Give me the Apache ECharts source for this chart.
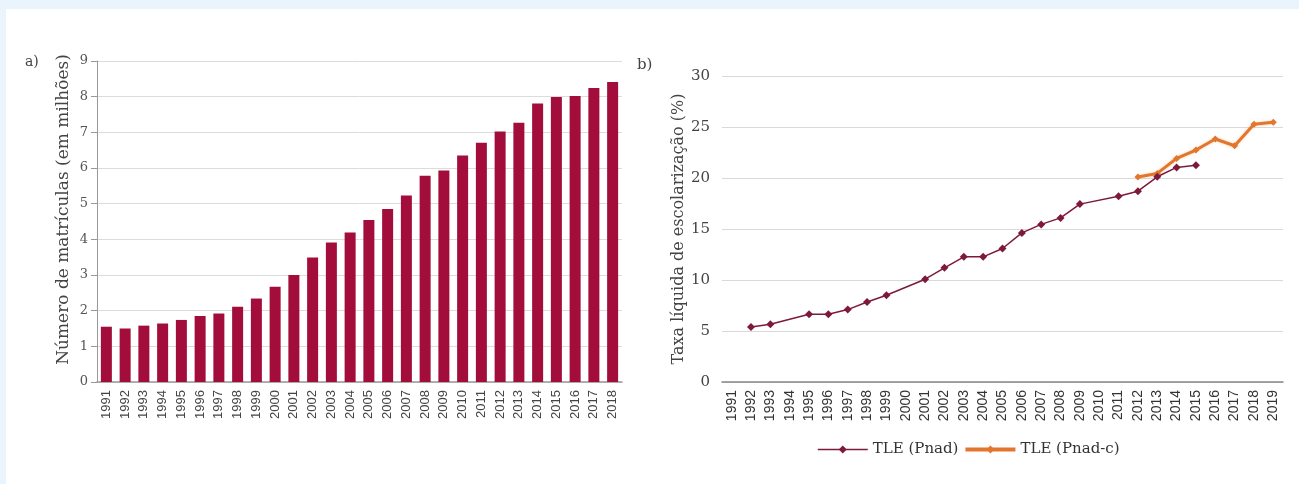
<!DOCTYPE html>
<html>
<head>
<meta charset="utf-8">
<script src="https://cdn.jsdelivr.net/npm/echarts@6/dist/echarts.min.js"></script>
<style>
  html, body { margin: 0; padding: 0; background: #eaf4fc; }
  #paper { position: absolute; left: 6px; top: 9px; width: 1293px; height: 475px; background: #fff; }
  #chart { position: absolute; left: 0; top: 0; width: 1299px; height: 484px; }
</style>
</head>
<body>
<div id="paper"></div>
<div id="chart"></div>
<script>
// a) matrículas (em milhões)
var anosA = ['1991','1992','1993','1994','1995','1996','1997','1998','1999','2000',
  '2001','2002','2003','2004','2005','2006','2007','2008','2009','2010',
  '2011','2012','2013','2014','2015','2016','2017','2018'];
var matriculas = [1.55,1.50,1.58,1.64,1.74,1.85,1.92,2.11,2.34,2.67,
  3.00,3.49,3.91,4.19,4.54,4.85,5.23,5.78,5.93,6.35,
  6.71,7.02,7.27,7.81,7.99,8.02,8.24,8.41];

// b) taxa líquida de escolarização (%)
var anosB = ['1991','1992','1993','1994','1995','1996','1997','1998','1999','2000',
  '2001','2002','2003','2004','2005','2006','2007','2008','2009','2010',
  '2011','2012','2013','2014','2015','2016','2017','2018','2019'];
var tlePnad = [null,5.40,5.66,null,6.64,6.64,7.10,7.85,8.51,null,
  10.08,11.19,12.27,12.27,13.09,14.62,15.45,16.09,17.44,null,
  18.22,18.71,20.12,21.04,21.24,null,null,null,null];
var tlePnadC = [null,null,null,null,null,null,null,null,null,null,
  null,null,null,null,null,null,null,null,null,null,
  null,20.09,20.45,21.92,22.74,23.82,23.16,25.26,25.46];

var serif = 'DejaVu Serif';
var sans = 'Liberation Sans';

var chart = echarts.init(document.getElementById('chart'));
var option = {
  animation: false,
  textStyle: { fontFamily: serif },
  graphic: [
    { type: 'text', left: 25, top: 55, style: { text: 'a)', font: '14px "DejaVu Serif"', fill: '#444' } },
    { type: 'text', left: 637, top: 58, style: { text: 'b)', font: '15px "DejaVu Serif"', fill: '#444' } }
  ],
  legend: {
    left: 812,
    top: 437,
    itemWidth: 50,
    itemHeight: 10,
    itemGap: 5,
    textStyle: { fontFamily: serif, fontSize: 15, color: '#333' },
    data: [
      { name: 'TLE (Pnad)', lineStyle: { width: 1.5 } },
      { name: 'TLE (Pnad-c)', lineStyle: { width: 4 } }
    ]
  },
  grid: [
    { left: 97, right: 677, top: 61, bottom: 102 },
    { left: 722, right: 16, top: 76, bottom: 102 }
  ],
  xAxis: [
    {
      gridIndex: 0,
      type: 'category',
      data: anosA,
      axisLine: { lineStyle: { color: '#999', width: 1.5 } },
      axisTick: { show: false },
      axisLabel: { rotate: 90, interval: 0, fontFamily: sans, fontSize: 13, color: '#444', margin: 8 }
    },
    {
      gridIndex: 1,
      type: 'category',
      data: anosB,
      axisLine: { lineStyle: { color: '#888', width: 1.5 } },
      axisTick: { show: false },
      axisLabel: { rotate: 90, interval: 0, fontFamily: sans, fontSize: 14, color: '#333', margin: 8 }
    }
  ],
  yAxis: [
    {
      gridIndex: 0,
      type: 'value',
      min: 0, max: 9, interval: 1,
      name: 'Número de matrículas (em milhões)',
      nameLocation: 'middle',
      nameGap: 25,
      nameTextStyle: { fontFamily: serif, fontSize: 17, color: '#444', padding: [0, 0, 0, 24] },
      axisLine: { show: true, lineStyle: { color: '#999' } },
      axisTick: { show: true, length: 6, lineStyle: { color: '#999' } },
      axisLabel: { fontFamily: serif, fontSize: 13, color: '#555', margin: 9 },
      splitLine: { lineStyle: { color: '#dcdcdc' } }
    },
    {
      gridIndex: 1,
      type: 'value',
      min: 0, max: 30, interval: 5,
      name: 'Taxa líquida de escolarização (%)',
      nameLocation: 'middle',
      nameGap: 34,
      nameTextStyle: { fontFamily: serif, fontSize: 16, color: '#444' },
      axisLine: { show: false },
      axisTick: { show: false },
      axisLabel: { fontFamily: serif, fontSize: 15, color: '#444', margin: 12 },
      splitLine: { lineStyle: { color: '#d9d9d9' } }
    }
  ],
  series: [
    {
      name: 'Matrículas',
      type: 'bar',
      xAxisIndex: 0,
      yAxisIndex: 0,
      data: matriculas,
      barWidth: 11,
      itemStyle: { color: '#a30d3b' }
    },
    {
      name: 'TLE (Pnad)',
      type: 'line',
      xAxisIndex: 1,
      yAxisIndex: 1,
      data: tlePnad,
      connectNulls: true,
      z: 4,
      symbol: 'diamond',
      symbolSize: 8,
      lineStyle: { color: '#7d1a3c', width: 1.5 },
      itemStyle: { color: '#7d1a3c' }
    },
    {
      name: 'TLE (Pnad-c)',
      type: 'line',
      xAxisIndex: 1,
      yAxisIndex: 1,
      data: tlePnadC,
      connectNulls: true,
      z: 3,
      symbol: 'diamond',
      symbolSize: 7,
      lineStyle: { color: '#e2762e', width: 3, shadowColor: 'rgba(240,160,90,0.5)', shadowBlur: 3 },
      itemStyle: { color: '#e2762e' }
    }
  ]
};
chart.setOption(option);
</script>
</body>
</html>
